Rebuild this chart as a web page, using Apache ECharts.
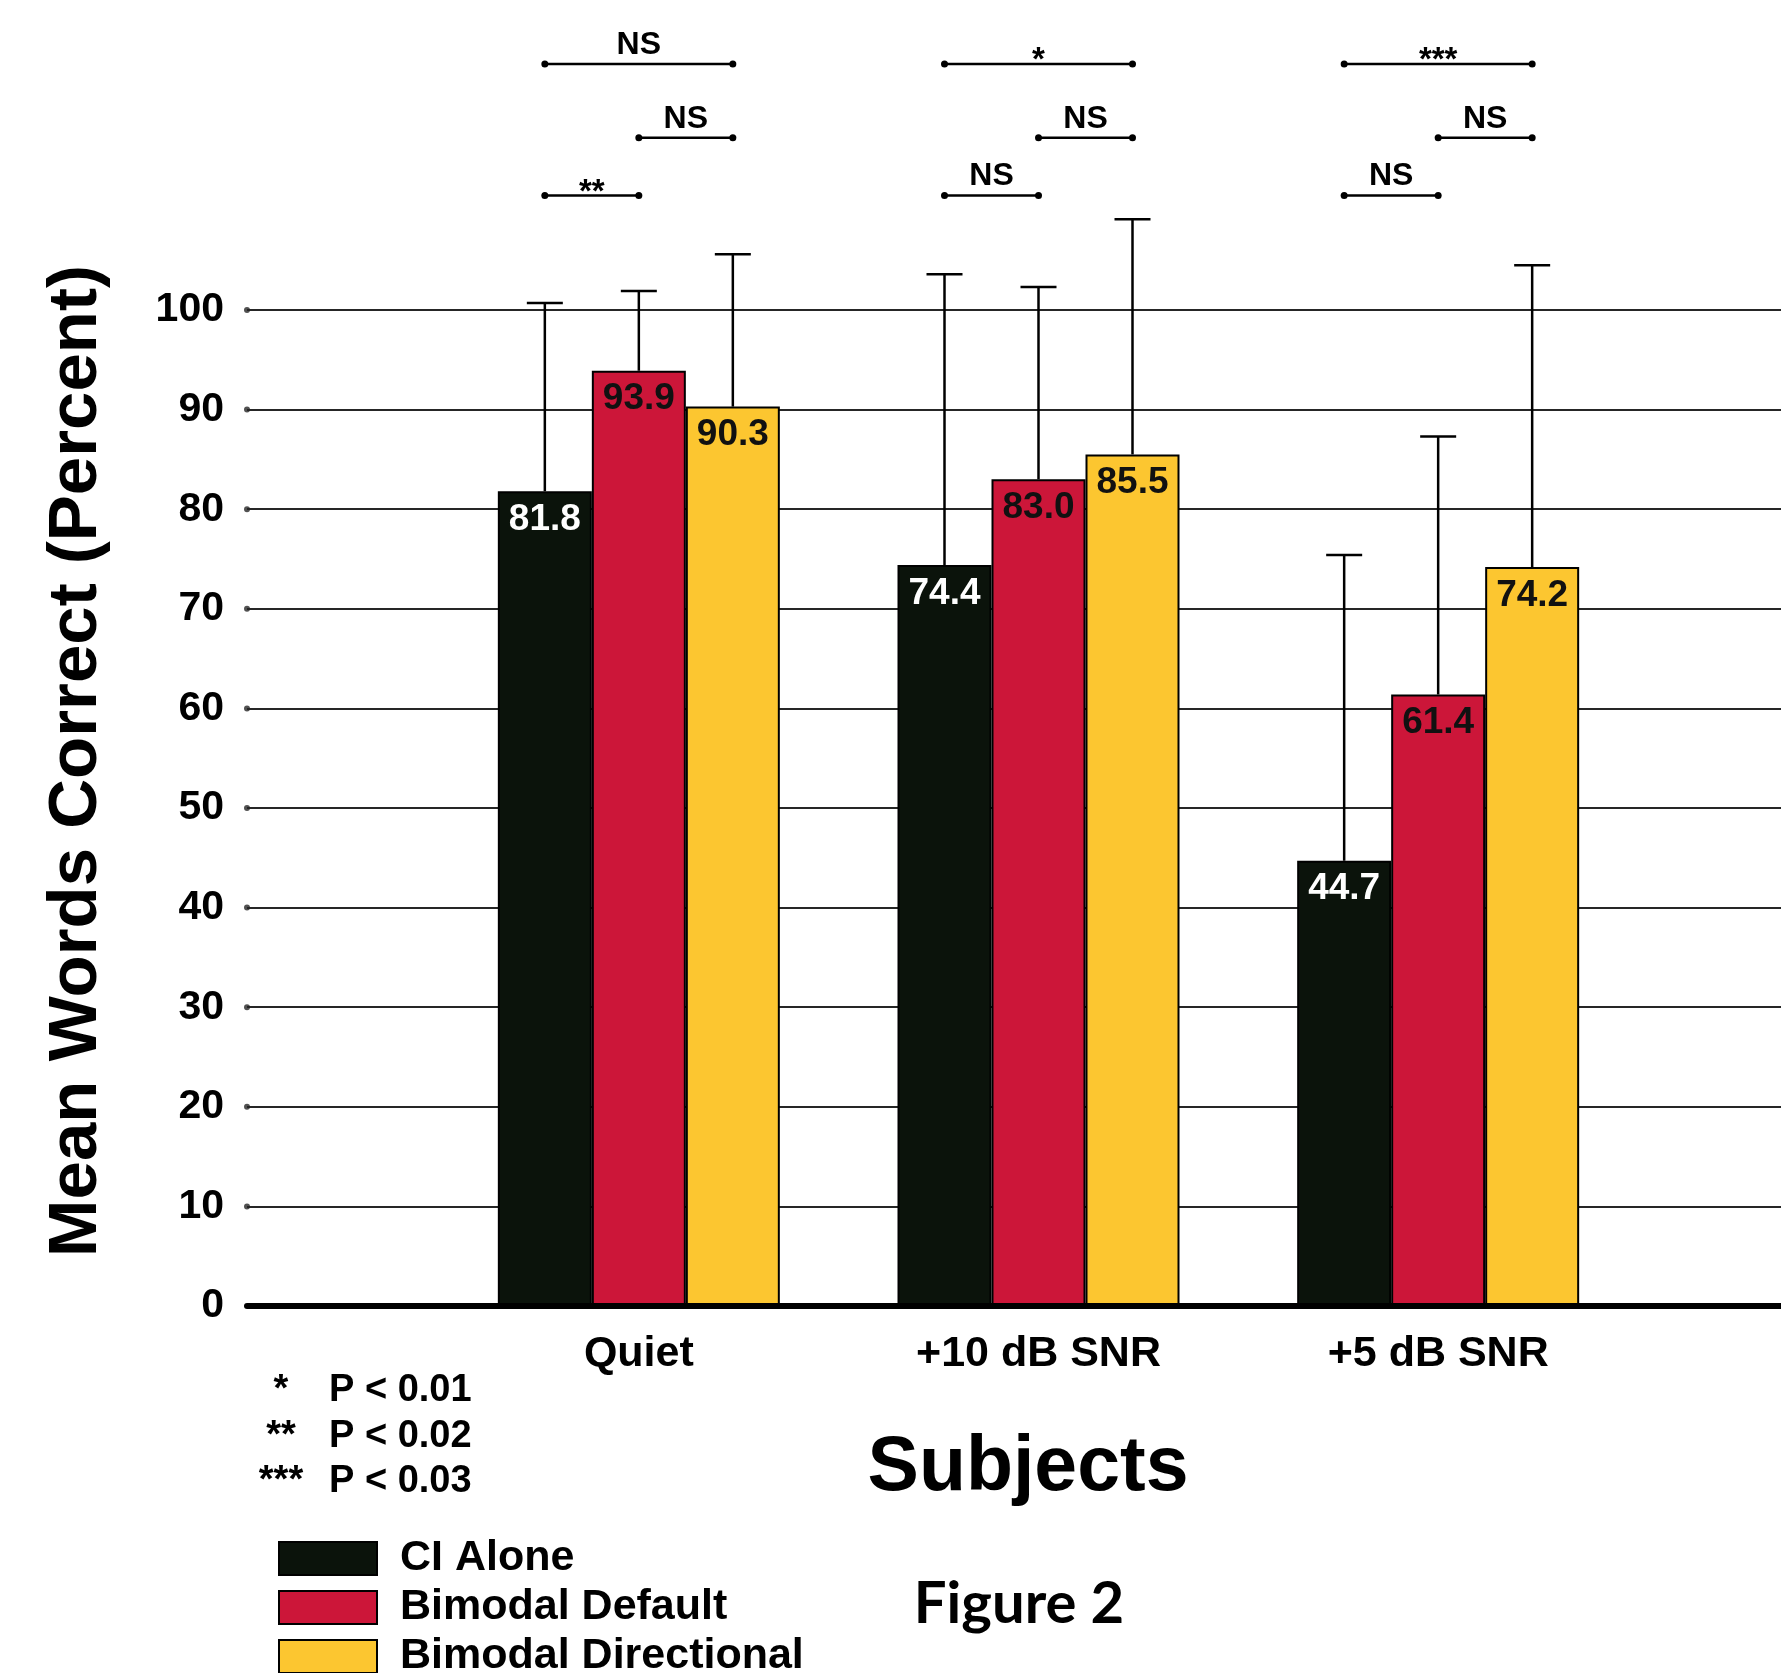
<!DOCTYPE html>
<html>
<head>
<meta charset="utf-8">
<title>Figure 2</title>
<script src="https://cdn.jsdelivr.net/npm/echarts@6/dist/echarts.min.js"></script>
<style>
  html, body { margin: 0; padding: 0; background: #fff; }
  #chart { width: 1781px; height: 1673px; }
</style>
</head>
<body>
<div id="chart"></div>
<script>
  // data
  var categories = ['Quiet', '+10 dB SNR', '+5 dB SNR'];
  var seriesNames = ['CI Alone', 'Bimodal Default', 'Bimodal Directional'];
  var ciAlone = [81.8, 74.4, 44.7];
  var bimodalDefault = [93.9, 83.0, 61.4];
  var bimodalDirectional = [90.3, 85.5, 74.2];
  // upper error bar (SD)
  var sdCiAlone = [18.9, 29.2, 30.7];
  var sdBimodalDefault = [8.0, 19.3, 25.9];
  var sdBimodalDirectional = [15.3, 23.6, 30.3];
  var yTicks = [0, 10, 20, 30, 40, 50, 60, 70, 80, 90, 100];

  // significance brackets: category, from bar, to bar, label
  var sigCategory = [0, 0, 0, 1, 1, 1, 2, 2, 2];
  var sigFrom = [0, 1, 0, 0, 1, 0, 0, 1, 0];
  var sigTo = [1, 2, 2, 1, 2, 2, 1, 2, 2];
  var sigLabels = ['**', 'NS', 'NS', 'NS', 'NS', '*', 'NS', 'NS', '***'];

  var pStars = ['*', '**', '***'];
  var pValues = ['P < 0.01', 'P < 0.02', 'P < 0.03'];

  // styles / layout
  var FONT = '"Liberation Sans", Arial, sans-serif';
  var colors = ['#0b130b', '#cc1639', '#fcc630'];
  var labelColors = ['#fff', '#111', '#111'];
  var BAR_W = 94;
  var CAP_W = 36;
  // bracket heights in axis units (lowest, middle, top)
  var bracketLevel = { '0-1': 111.5, '1-2': 117.3, '0-2': 124.7 };

  var means = [ciAlone, bimodalDefault, bimodalDirectional];
  var sds = [sdCiAlone, sdBimodalDefault, sdBimodalDirectional];

  var errData = [];
  for (var i = 0; i < categories.length; i++) {
    for (var s = 0; s < means.length; s++) {
      errData.push([i, s, means[s][i], means[s][i] + sds[s][i]]);
    }
  }
  var sigData = [];
  for (var k = 0; k < sigLabels.length; k++) {
    sigData.push([sigCategory[k], sigFrom[k], sigTo[k]]);
  }

  function renderErr(params, api) {
    var s = api.value(1);
    var base = api.coord([api.value(0), api.value(2)]);
    var tip = api.coord([api.value(0), api.value(3)]);
    var x = base[0] + (s - 1) * BAR_W;
    var st = { stroke: '#000', lineWidth: 2.5 };
    return {
      type: 'group',
      children: [
        { type: 'line', shape: { x1: x, y1: base[1], x2: x, y2: tip[1] }, style: st },
        { type: 'line', shape: { x1: x - CAP_W / 2, y1: tip[1], x2: x + CAP_W / 2, y2: tip[1] }, style: st }
      ]
    };
  }

  function renderSig(params, api) {
    var from = api.value(1), to = api.value(2);
    var c = api.coord([api.value(0), bracketLevel[from + '-' + to]]);
    var x1 = c[0] + (from - 1) * BAR_W;
    var x2 = c[0] + (to - 1) * BAR_W;
    var y = c[1];
    var label = sigLabels[params.dataIndex];
    var isStar = label.indexOf('*') >= 0;
    return {
      type: 'group',
      children: [
        { type: 'line', shape: { x1: x1, y1: y, x2: x2, y2: y }, style: { stroke: '#000', lineWidth: 2.5 } },
        { type: 'circle', shape: { cx: x1, cy: y, r: 3.5 }, style: { fill: '#000' } },
        { type: 'circle', shape: { cx: x2, cy: y, r: 3.5 }, style: { fill: '#000' } },
        {
          type: 'text',
          style: {
            text: label,
            x: (x1 + x2) / 2,
            y: isStar ? y - 3 : y - 19,
            align: 'center',
            verticalAlign: 'middle',
            fontSize: isStar ? 33 : 32,
            fontWeight: 'bold',
            fontFamily: FONT,
            fill: '#000'
          }
        }
      ]
    };
  }

  var barSeries = seriesNames.map(function (name, s) {
    return {
      name: name,
      type: 'bar',
      xAxisIndex: 1,
      yAxisIndex: 1,
      data: means[s],
      barWidth: BAR_W,
      barGap: '0%',
      z: 2,
      itemStyle: { color: colors[s], borderColor: '#000', borderWidth: 2 },
      label: {
        show: true,
        position: 'insideTop',
        distance: 10,
        color: labelColors[s],
        fontSize: 37,
        fontWeight: 'bold',
        fontFamily: FONT,
        formatter: function (p) { return p.value.toFixed(1); }
      }
    };
  });

  var keyGraphics = [];
  for (var r = 0; r < pStars.length; r++) {
    var ty = 1391 + r * 45.5;
    keyGraphics.push({
      type: 'text', x: 281, y: ty,
      style: { text: pStars[r], align: 'center', verticalAlign: 'middle', fontSize: 38, fontWeight: 'bold', fontFamily: FONT, fill: '#000' }
    });
    keyGraphics.push({
      type: 'text', x: 329, y: ty,
      style: { text: pValues[r], align: 'left', verticalAlign: 'middle', fontSize: 38, fontWeight: 'bold', fontFamily: FONT, fill: '#000' }
    });
  }

  var option = {
    backgroundColor: '#fff',
    animation: false,
    grid: [
      { left: 247, right: 0, top: 310, bottom: 367, outerBoundsMode: 'none' },
      { left: 439, right: 143, top: 310, bottom: 367, outerBoundsMode: 'none' }
    ],
    xAxis: [
      {
        type: 'value', gridIndex: 0, min: 0, max: 1, z: 5,
        axisLine: { show: true, lineStyle: { color: '#000', width: 6, cap: 'round' } },
        axisTick: { show: false }, axisLabel: { show: false }, splitLine: { show: false }
      },
      {
        type: 'category', gridIndex: 1, data: categories,
        axisLine: { show: false }, axisTick: { show: false }, splitLine: { show: false },
        axisLabel: { margin: 27, color: '#000', fontSize: 43, fontWeight: 'bold', fontFamily: FONT }
      }
    ],
    yAxis: [
      {
        type: 'value', gridIndex: 0, min: 0, max: 100, interval: 10,
        axisLine: { show: false }, axisTick: { show: false },
        axisLabel: { margin: 23, color: '#000', fontSize: 41, fontWeight: 'bold', fontFamily: FONT },
        splitLine: { show: true, lineStyle: { color: '#262626', width: 2 } }
      },
      { type: 'value', gridIndex: 1, min: 0, max: 100, interval: 10, show: false }
    ],
    legend: {
      orient: 'vertical',
      left: 278,
      top: 1537,
      height: 300,
      padding: 0,
      itemWidth: 98,
      itemHeight: 33,
      itemGap: 6,
      icon: 'rect',
      data: seriesNames,
      textStyle: { color: '#000', fontSize: 43, fontWeight: 'bold', fontFamily: FONT, padding: [0, 0, 0, 18] }
    },
    graphic: [
      {
        type: 'text', x: 77, y: 761, rotation: Math.PI / 2,
        style: { text: 'Mean Words Correct (Percent)', align: 'center', verticalAlign: 'middle', fontSize: 69, fontWeight: 'bold', fontFamily: FONT, fill: '#000' }
      },
      {
        type: 'text', x: 1028, y: 1469,
        style: { text: 'Subjects', align: 'center', verticalAlign: 'middle', fontSize: 77, fontWeight: 'bold', fontFamily: FONT, fill: '#000' }
      },
      {
        type: 'text', x: 1019, y: 1604,
        style: { text: 'Figure 2', align: 'center', verticalAlign: 'middle', fontSize: 58, fontWeight: 'bold', fontFamily: 'Lato, "Open Sans", sans-serif', fill: '#000' }
      }
    ].concat(keyGraphics),
    series: barSeries.concat([
      {
        name: 'gridDots',
        type: 'scatter',
        xAxisIndex: 0, yAxisIndex: 0,
        data: yTicks.filter(function (v) { return v > 0; }).map(function (v) { return [0, v]; }),
        symbolSize: 6,
        itemStyle: { color: '#262626' },
        silent: true,
        z: 1
      },
      {
        name: 'errorBars',
        type: 'custom',
        xAxisIndex: 1, yAxisIndex: 1,
        data: errData,
        renderItem: renderErr,
        encode: { x: 0, y: 3 },
        silent: true,
        z: 3
      },
      {
        name: 'significance',
        type: 'custom',
        xAxisIndex: 1, yAxisIndex: 1,
        data: sigData,
        renderItem: renderSig,
        encode: { x: 0 },
        silent: true,
        z: 3
      }
    ])
  };

  var myChart = echarts.init(document.getElementById('chart'));
  myChart.setOption(option);
  window.addEventListener('resize', function () {
    myChart.resize();
  });
</script>
</body>
</html>
